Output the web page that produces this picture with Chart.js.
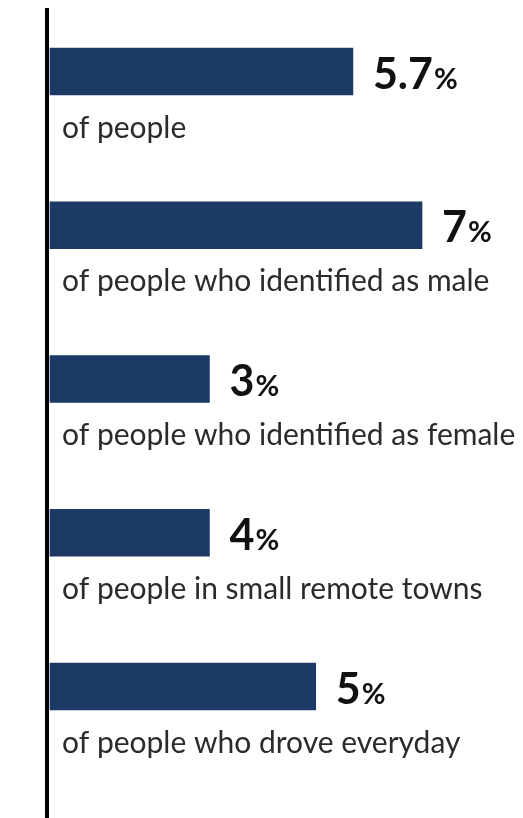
<!DOCTYPE html>
<html>
<head>
<meta charset="utf-8">
<script src="https://cdn.jsdelivr.net/npm/chart.js@4.4.0/dist/chart.umd.min.js"></script>
<style>
  html, body { margin: 0; padding: 0; background: #fff; }
  #wrap { width: 523px; height: 818px; }
</style>
</head>
<body>
<div id="wrap"><canvas id="grafico" width="523" height="818"></canvas></div>
<script>
// Categorias e valores (comprimento das barras)
const categorias = [
  'of people',
  'of people who identified as male',
  'of people who identified as female',
  'of people in small remote towns',
  'of people who drove everyday'
];
const valores = [5.7, 7, 3, 3, 5];
// Rótulos impressos ao lado das barras
const rotulos = ['5.7', '7', '3', '4', '5'];

const corBarra = '#1d3a67';

// Plugin: linha vertical, números e legendas
const pluginTextos = {
  id: 'textos',
  afterDatasetsDraw(chart) {
    const ctx = chart.ctx;
    const area = chart.chartArea;
    ctx.save();
    // linha do eixo
    ctx.fillStyle = '#000';
    ctx.fillRect(area.left - 5, 8, 4, chart.height - 8);

    const meta = chart.getDatasetMeta(0);
    meta.data.forEach((bar, i) => {
      // número + %
      const x = bar.x + 20;
      const base = bar.y + 17;
      ctx.fillStyle = '#111';
      ctx.textBaseline = 'alphabetic';
      ctx.textAlign = 'left';
      ctx.font = 'bold 43px Lato';
      ctx.fillText(rotulos[i], x, base);
      const w = ctx.measureText(rotulos[i]).width;
      ctx.font = 'bold 29px Lato';
      ctx.fillText('%', x + w + 1, base);

      // legenda abaixo da barra
      ctx.fillStyle = '#2b2b2b';
      ctx.font = '30px Lato';
      ctx.fillText(categorias[i], area.left + 12, bar.y + 66);
    });
    ctx.restore();
  }
};

new Chart(document.getElementById('grafico'), {
  type: 'bar',
  data: {
    labels: categorias,
    datasets: [{
      data: valores,
      backgroundColor: corBarra,
      barThickness: 47,
      clip: false
    }]
  },
  options: {
    indexAxis: 'y',
    responsive: false,
    animation: false,
    layout: { padding: { top: 71.5, bottom: 131.5, left: 50, right: 0 } },
    plugins: { legend: { display: false }, tooltip: { enabled: false } },
    scales: {
      x: { display: false, min: 0, max: 8.9 },
      y: { display: false, offset: false }
    }
  },
  plugins: [pluginTextos]
});
</script>
</body>
</html>
